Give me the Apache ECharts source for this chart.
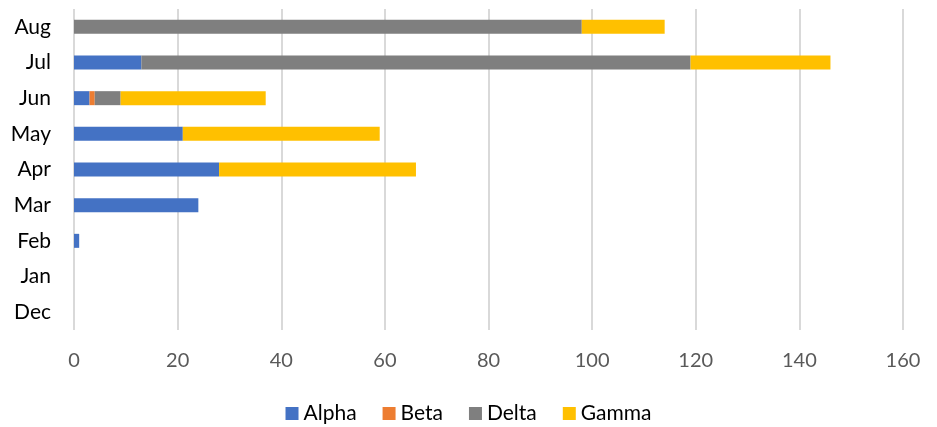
<!DOCTYPE html>
<html>
<head>
<meta charset="utf-8">
<script src="https://cdn.jsdelivr.net/npm/echarts@6/dist/echarts.min.js"></script>
<style>
html, body { margin: 0; padding: 0; background: #fff; }
#chart { width: 937px; height: 427px; }
</style>
</head>
<body>
<div id="chart"></div>
<script>
// months, bottom to top
const months = ['Dec', 'Jan', 'Feb', 'Mar', 'Apr', 'May', 'Jun', 'Jul', 'Aug']
const alpha = [0, 0, 1, 24, 28, 21, 3, 13, 0]
const beta = [0, 0, 0, 0, 0, 0, 1, 0, 0]
const delta = [0, 0, 0, 0, 0, 0, 5, 106, 98]
const gamma = [0, 0, 0, 0, 38, 38, 28, 27, 16]

const fontFamily = 'Lato, "Open Sans", sans-serif'
const chart = echarts.init(document.getElementById('chart'))

function makeSeries(name, data, color) {
    return {
        name: name,
        type: 'bar',
        stack: 'total',
        data: data,
        barWidth: 14,
        itemStyle: { color: color },
        emphasis: { disabled: true }
    }
}

const option = {
    animation: false,
    grid: { left: 74, right: 34, top: 9, bottom: 97 },
    legend: {
        bottom: -2,
        left: 'center',
        itemWidth: 13,
        itemHeight: 13,
        itemGap: 26,
        icon: 'rect',
        textStyle: { fontFamily: fontFamily, fontSize: 21, color: '#000' },
        data: ['Alpha', 'Beta', 'Delta', 'Gamma']
    },
    xAxis: {
        type: 'value',
        min: 0,
        max: 160,
        interval: 20,
        axisLine: { show: false },
        axisTick: { show: false },
        splitLine: { lineStyle: { color: '#d9d9d9', width: 2 } },
        axisLabel: { fontFamily: fontFamily, fontSize: 20, color: '#595959', margin: 21 }
    },
    yAxis: {
        type: 'category',
        data: months,
        axisLine: { show: false },
        axisTick: { show: false },
        axisLabel: { fontFamily: fontFamily, fontSize: 21, color: '#000', margin: 23 }
    },
    series: [
        makeSeries('Alpha', alpha, '#4472c4'),
        makeSeries('Beta', beta, '#ed7d31'),
        makeSeries('Delta', delta, '#7f7f7f'),
        makeSeries('Gamma', gamma, '#ffc000')
    ]
}
chart.setOption(option)
</script>
</body>
</html>
